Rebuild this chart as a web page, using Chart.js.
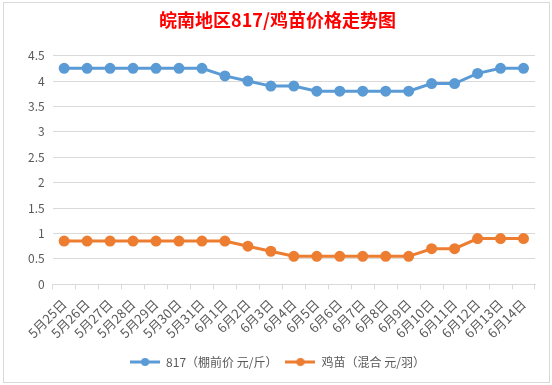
<!DOCTYPE html>
<html>
<head>
<meta charset="utf-8">
<script src="https://cdn.jsdelivr.net/npm/chart.js@4.4.1/dist/chart.umd.min.js"></script>
<style>
  html, body { margin: 0; padding: 0; background: #fff; }
  #wrap {
    position: absolute; left: 3px; top: 2px;
    width: 545px; height: 379px;
    border: 1px solid #d9d9d9;
    background: #fff;
  }
</style>
</head>
<body>
<div id="wrap"><canvas id="myChart" width="545" height="379"></canvas></div>
<script>
const dates = [
  "5月25日", "5月26日", "5月27日", "5月28日", "5月29日", "5月30日", "5月31日",
  "6月1日", "6月2日", "6月3日", "6月4日", "6月5日", "6月6日", "6月7日",
  "6月8日", "6月9日", "6月10日", "6月11日", "6月12日", "6月13日", "6月14日"
];
const price817 = [4.25, 4.25, 4.25, 4.25, 4.25, 4.25, 4.25, 4.1, 4.0, 3.9, 3.9,
  3.8, 3.8, 3.8, 3.8, 3.8, 3.95, 3.95, 4.15, 4.25, 4.25];
const chickPrice = [0.85, 0.85, 0.85, 0.85, 0.85, 0.85, 0.85, 0.85, 0.75, 0.65, 0.55,
  0.55, 0.55, 0.55, 0.55, 0.55, 0.7, 0.7, 0.9, 0.9, 0.9];
const seriesNames = ["817（棚前价 元/斤）", "鸡苗（混合 元/羽）"];
const yTicks = [0, 0.5, 1, 1.5, 2, 2.5, 3, 3.5, 4, 4.5];

const blue = "#5b9bd5";
const orange = "#ed7d31";
const grey = "#595959";
const font = "'Noto Sans CJK SC', 'Microsoft YaHei', sans-serif";

// legend marker: short line with a dot in the middle
function legendMark(color) {
  const c = document.createElement("canvas");
  c.width = 30; c.height = 10;
  const g = c.getContext("2d");
  g.strokeStyle = color;
  g.lineWidth = 3;
  g.beginPath(); g.moveTo(0, 5); g.lineTo(30, 5); g.stroke();
  g.fillStyle = color;
  g.beginPath(); g.arc(15, 5, 4, 0, Math.PI * 2); g.fill();
  return c;
}
const marks = [legendMark(blue), legendMark(orange)];

const myChart = new Chart(document.getElementById("myChart"), {
  type: "line",
  data: {
    labels: dates,
    datasets: [{
      label: seriesNames[0],
      data: price817,
      borderColor: blue,
      backgroundColor: blue,
      borderWidth: 3,
      pointRadius: 4,
      pointHoverRadius: 4,
      tension: 0
    }, {
      label: seriesNames[1],
      data: chickPrice,
      borderColor: orange,
      backgroundColor: orange,
      borderWidth: 3,
      pointRadius: 4,
      pointHoverRadius: 4,
      tension: 0
    }]
  },
  options: {
    responsive: false,
    animation: false,
    layout: { padding: { left: 16, right: 14, top: 0, bottom: 4 } },
    scales: {
      x: {
        offset: true,
        grid: {
          offset: true,
          drawOnChartArea: false,
          drawTicks: true,
          tickLength: 5,
          color: "#d9d9d9"
        },
        border: { color: "#d9d9d9" },
        ticks: {
          minRotation: 45,
          maxRotation: 45,
          autoSkip: false,
          padding: 7,
          color: grey,
          font: { family: font, size: 13 }
        }
      },
      y: {
        min: 0,
        max: 4.5,
        afterBuildTicks: (axis) => { axis.ticks = yTicks.map(v => ({ value: v })); },
        grid: { color: "#d9d9d9", drawTicks: false },
        border: { display: false },
        ticks: {
          padding: 8,
          color: grey,
          font: { family: font, size: 12 },
          callback: (v) => String(v)
        }
      }
    },
    plugins: {
      title: {
        display: true,
        text: "皖南地区817/鸡苗价格走势图",
        color: "#ff0000",
        font: { family: font, size: 18, weight: "bold" },
        padding: { top: 6, bottom: 25 }
      },
      legend: {
        position: "bottom",
        labels: {
          usePointStyle: true,
          pointStyleWidth: 30,
          padding: 8,
          color: grey,
          font: { family: font, size: 12 },
          generateLabels: (chart) => {
            const items = Chart.defaults.plugins.legend.labels.generateLabels(chart);
            items.forEach((it, i) => { it.pointStyle = marks[i]; });
            return items;
          }
        }
      },
      tooltip: { enabled: false }
    }
  }
});
</script>
</body>
</html>
